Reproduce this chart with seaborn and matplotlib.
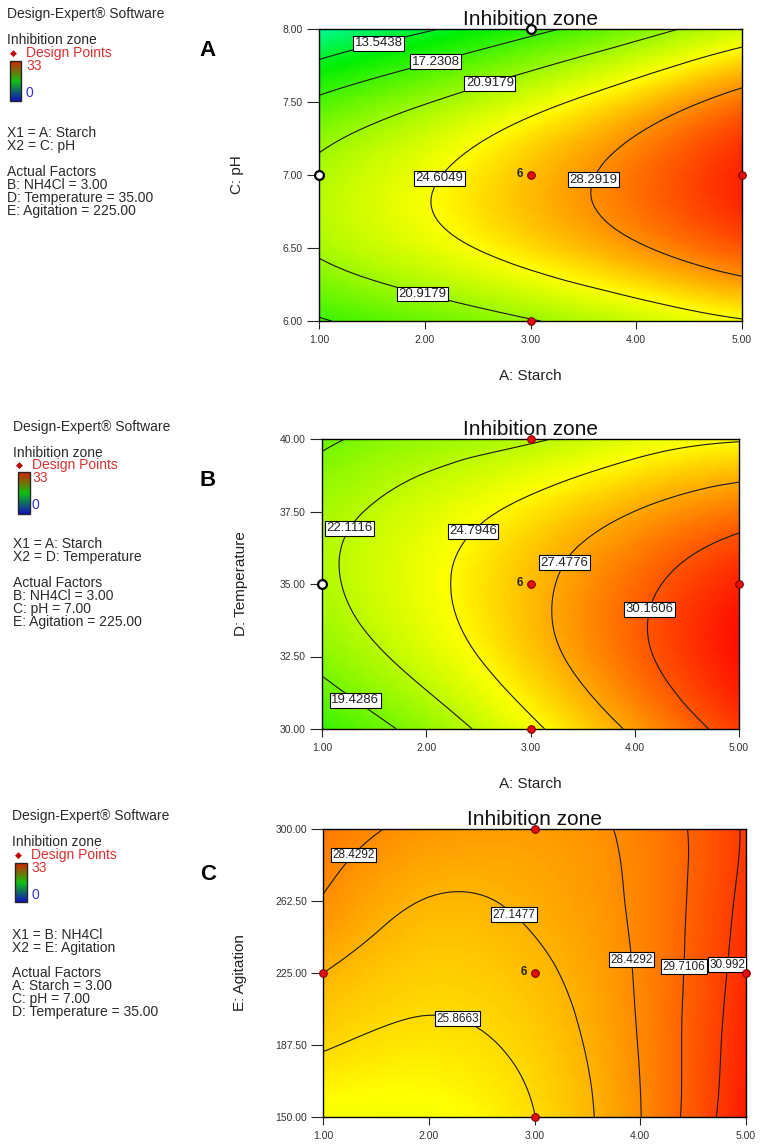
import numpy as np
import pandas as pd
import matplotlib
matplotlib.use("Agg")
import matplotlib.pyplot as plt
import matplotlib.tri as mtri
from matplotlib.colors import LinearSegmentedColormap
import seaborn as sns

# ---- data ----
starch = [1.0, 2.0, 3.0, 4.0, 5.0]
nh4cl = [1.0, 2.0, 3.0, 4.0, 5.0]
ph = [6.0, 6.5, 7.0, 7.5, 8.0]
temperature = [30.0, 32.5, 35.0, 37.5, 40.0]
agitation = [150.0, 187.5, 225.0, 262.5, 300.0]

# rows follow the y factor, columns follow the x factor
zone_starch_ph = [
    [16.95, 18.86, 20.74, 22.59, 24.41],
    [21.33, 23.58, 25.79, 27.99, 30.15],
    [21.62, 24.20, 26.75, 29.28, 31.78],
    [17.81, 20.73, 23.61, 26.48, 29.31],
    [9.90, 13.15, 16.37, 19.57, 22.74],
]
zone_starch_temp = [
    [16.89, 20.45, 24.28, 27.85, 31.00],
    [20.17, 23.22, 26.44, 29.62, 32.46],
    [21.60, 24.20, 26.83, 29.50, 31.84],
    [21.19, 23.37, 25.45, 27.49, 29.14],
    [18.95, 20.70, 21.80, 23.60, 24.60],
]
zone_nh4cl_agit = [
    [24.40, 24.40, 25.85, 28.40, 32.10],
    [26.00, 25.50, 26.30, 28.50, 31.85],
    [27.15, 26.30, 26.85, 28.60, 31.60],
    [28.35, 27.10, 27.40, 28.70, 31.35],
    [29.00, 28.10, 27.90, 28.80, 31.15],
]

levels_a = [13.5438, 17.2308, 20.9179, 24.6049, 28.2919]
levels_b = [19.4286, 22.1116, 24.7946, 27.4776, 30.1606]
levels_c = [25.8663, 27.1477, 28.4292, 29.7106, 30.992]

# design points: x, y, kind (center point carries the replicate count 6)
points_a = pd.DataFrame({"x": [1, 3, 3, 5, 3], "y": [7.0, 8.0, 7.0, 7.0, 6.0],
                         "kind": ["open", "open", "red", "red", "red"]})
points_b = pd.DataFrame({"x": [1, 3, 3, 5, 3], "y": [35.0, 40.0, 35.0, 35.0, 30.0],
                         "kind": ["open", "red", "red", "red", "red"]})
points_c = pd.DataFrame({"x": [1, 3, 3, 5, 3], "y": [225.0, 300.0, 225.0, 225.0, 150.0],
                         "kind": ["red", "red", "red", "red", "red"]})
center_runs = 6

# ---- style ----
sns.set_style("ticks")
plt.rcParams["font.family"] = ["Liberation Sans", "DejaVu Sans"]

W, H = 777, 1145
fig = plt.figure(figsize=(W / 100, H / 100), dpi=100)
cmap = LinearSegmentedColormap.from_list(
    "dx", [(0.0, "#0000ff"), (0.2, "#00ffff"), (0.45, "#00f000"),
           (0.75, "#ffff00"), (1.0, "#ff0000")])
swatch_cmap = LinearSegmentedColormap.from_list(
    "sw", ["#1010c0", "#10c010", "#d82000"])


def rect(l, t, r, b):
    return [l / W, 1 - b / H, (r - l) / W, (b - t) / H]


def ftext(x, y, s, **kw):
    kw.setdefault("fontsize", 10)
    kw.setdefault("color", "#2a2a2a")
    fig.text(x / W, 1 - y / H, s, va="center", ha="left", **kw)


def side_block(x0, ys, letter_y, letter, lines_x, lines_actual):
    ftext(x0, ys[0], "Design-Expert\u00ae Software")
    ftext(x0, ys[1], "Inhibition zone")
    fig.text((x0 + 6) / W, 1 - ys[2] / H, "\u25c6", color="#c00000", fontsize=6.5,
             va="center", ha="center")
    ftext(x0 + 19, ys[2], "Design Points", color="#d83030")
    ftext(x0 + 19, ys[3], "33", color="#d83030")
    ftext(x0 + 19, ys[4], "0", color="#3030d0")
    ftext(x0, ys[5], lines_x[0])
    ftext(x0, ys[5] + 13, lines_x[1])
    ftext(x0, ys[6], "Actual Factors")
    for i, s in enumerate(lines_actual):
        ftext(x0, ys[6] + 13 * (i + 1), s)
    fig.text(208 / W, 1 - letter_y / H, letter, fontsize=16, fontweight="bold",
             color="black", va="center", ha="center")


def swatch(l, t, r, b):
    cax = fig.add_axes(rect(l, t, r, b))
    sm = plt.cm.ScalarMappable(cmap=swatch_cmap, norm=plt.Normalize(0, 33))
    cb = fig.colorbar(sm, cax=cax)
    cb.set_ticks([])
    cb.outline.set_linewidth(1.0)


def surface(ax, xs, ys, z, levels, label_pos, pts, xticks, yticks, label_size=9.5):
    gx, gy = np.meshgrid(xs, ys)
    xmin, xmax, ymin, ymax = min(xs), max(xs), min(ys), max(ys)
    nx = (gx.ravel() - xmin) / (xmax - xmin)
    ny = (gy.ravel() - ymin) / (ymax - ymin)
    tri = mtri.Triangulation(nx, ny)
    refiner = mtri.UniformTriRefiner(tri)
    tri_f, z_f = refiner.refine_field(np.asarray(z).ravel(), subdiv=4)
    tri_d = mtri.Triangulation(xmin + tri_f.x * (xmax - xmin),
                               ymin + tri_f.y * (ymax - ymin), tri_f.triangles)
    ax.tripcolor(tri_d, z_f, shading="gouraud", cmap=cmap, vmin=0, vmax=33)
    cs = ax.tricontour(tri_d, z_f, levels=levels, colors="#1a1a1a", linewidths=0.8)
    labels = ax.clabel(cs, levels, inline=False, fmt="%g", fontsize=label_size,
                       manual=label_pos, colors="#222222")
    for t in labels:
        t.set_rotation(0)
        t.set_bbox(dict(facecolor="white", edgecolor="black", pad=1.0, linewidth=0.8))
        t.set_zorder(5)
    red = pts[pts["kind"] == "red"]
    opn = pts[pts["kind"] == "open"]
    sns.scatterplot(data=red, x="x", y="y", ax=ax, color="#e01010", edgecolor="#800000",
                    linewidth=0.8, s=30, clip_on=False, zorder=6, legend=False)
    if len(opn):
        sns.scatterplot(data=opn, x="x", y="y", ax=ax, color="white", edgecolor="black",
                        linewidth=1.6, s=40, clip_on=False, zorder=6, legend=False)
    ax.annotate(str(center_runs), (3, ys[2]), xytext=(-8, 1), textcoords="offset points",
                ha="center", va="center", fontsize=8.5, fontweight="bold", zorder=7)
    ax.set_xlim(xmin, xmax)
    ax.set_ylim(ymin, ymax)
    ax.set_xticks(xticks)
    ax.set_yticks(yticks)
    ax.set_xticklabels([f"{v:.2f}" for v in xticks])
    ax.set_yticklabels([f"{v:.2f}" for v in yticks])
    ax.tick_params(axis="y", direction="out", length=8.5, width=0.8, pad=3,
                   labelsize=7.5, labelcolor="#333333")
    ax.tick_params(axis="x", direction="out", length=6, width=0.8, pad=4,
                   labelsize=7.5, labelcolor="#333333")
    for sp in ax.spines.values():
        sp.set_linewidth(1.0)
        sp.set_color("black")
    ax.set_title("Inhibition zone", fontsize=15, pad=2, color="#111111")
    ax.set_xlabel("")
    ax.set_ylabel("")


# ---- panel A ----
ax_a = fig.add_axes(rect(319, 29, 742, 321))
surface(ax_a, starch, ph, zone_starch_ph, levels_a,
        [(1.55, 7.95), (2.08, 7.84), (2.59, 7.69), (2.10, 7.0), (3.54, 6.98), (1.99, 6.23)],
        points_a, starch, ph)
ax_a.set_xlabel("A: Starch", fontsize=11, color="#222222")
ax_a.xaxis.set_label_coords(0.5, -0.165)
ax_a.set_ylabel("C: pH", fontsize=11, color="#222222")
ax_a.yaxis.set_label_coords(-0.177, 0.5)
side_block(7, [14, 40, 53, 66, 93, 133, 172], 50, "A",
           ["X1 = A: Starch", "X2 = C: pH"],
           ["B: NH4Cl = 3.00", "D: Temperature = 35.00", "E: Agitation = 225.00"])
swatch(10, 61, 21, 101)

# ---- panel B ----
ax_b = fig.add_axes(rect(322, 439, 739, 729))
surface(ax_b, starch, temperature, zone_starch_temp, levels_b,
        [(1.25, 36.96), (2.45, 36.82), (3.33, 35.72), (4.14, 34.14), (1.34, 31.09)],
        points_b, starch, temperature)
ax_b.set_xlabel("A: Starch", fontsize=11, color="#222222")
ax_b.xaxis.set_label_coords(0.5, -0.165)
ax_b.set_ylabel("D: Temperature", fontsize=11, color="#222222")
ax_b.yaxis.set_label_coords(-0.177, 0.5)
side_block(13, [427, 453, 465, 478, 505, 544, 583], 480, "B",
           ["X1 = A: Starch", "X2 = D: Temperature"],
           ["B: NH4Cl = 3.00", "C: pH = 7.00", "E: Agitation = 225.00"])
swatch(18, 472, 30, 514)

# ---- panel C ----
ax_c = fig.add_axes(rect(323, 829, 746, 1117))
surface(ax_c, nh4cl, agitation, zone_nh4cl_agit, levels_c,
        [(1.29, 286.3), (2.90, 261.9), (2.29, 204.3), (3.90, 231.8), (4.38, 228.3), (4.74, 229.7)],
        points_c, nh4cl, agitation, label_size=8.5)
ax_c.set_ylabel("E: Agitation", fontsize=11, color="#222222")
ax_c.yaxis.set_label_coords(-0.18, 0.5)
side_block(12, [816, 842, 855, 868, 895, 935, 973], 875, "C",
           ["X1 = B: NH4Cl", "X2 = E: Agitation"],
           ["A: Starch = 3.00", "C: pH = 7.00", "D: Temperature = 35.00"])
swatch(15, 863, 27, 902)

fig.savefig("out.png", dpi=100)
